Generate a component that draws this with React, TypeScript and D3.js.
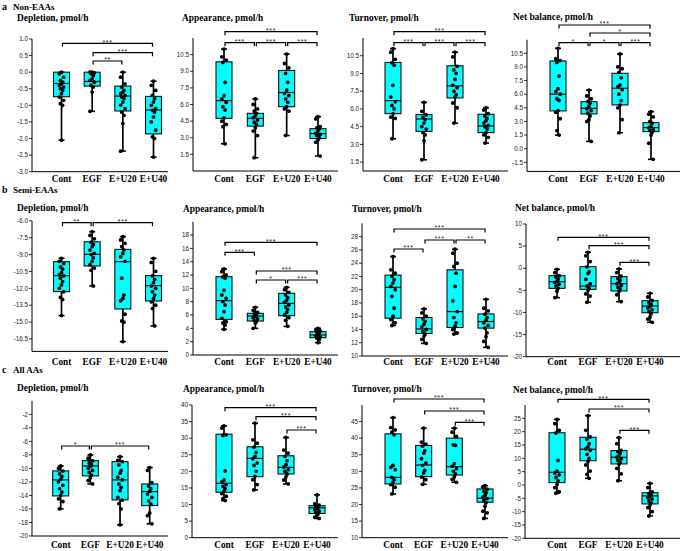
import React from "react";
import * as d3 from "d3";

const groups = ["Cont", "EGF", "E+U20", "E+U40"];

// box stats per group: [min, q1, median, q3, max]
// a: Non-EAAs
const neDepletionBox = [[-2.05, -0.74, -0.34, 0.0, 0.0], [-1.18, -0.42, -0.28, 0.0, 0.0], [-2.38, -1.17, -0.72, -0.42, 0.0], [-2.56, -1.86, -1.14, -0.73, -0.27]];
const neDepletionPts = [
  [0, -0.05, -0.15, -0.25, -0.3, -0.35, -0.4, -0.45, -0.5, -0.55, -0.65, -0.75, -0.85, -0.95, -1.0, -2.05],
  [0, 0, -0.02, -0.05, -0.1, -0.2, -0.25, -0.3, -0.4, -0.45, -0.6, -1.18],
  [0, -0.15, -0.35, -0.45, -0.55, -0.6, -0.65, -0.7, -0.75, -0.8, -0.9, -1.0, -1.1, -1.2, -1.3, -1.55, -2.38],
  [-0.27, -0.4, -0.55, -0.7, -0.8, -0.9, -1.0, -1.1, -1.15, -1.2, -1.35, -1.5, -1.75, -1.95, -2.0, -2.56],
];
const neAppearanceBox = [[2.45, 4.75, 6.35, 9.85, 11.0], [1.2, 4.05, 4.75, 5.2, 6.5], [3.2, 5.8, 7.08, 9.07, 10.55], [1.35, 2.93, 3.37, 3.82, 4.9]];
const neAppearancePts = [
  [11.0, 10.3, 10.0, 9.8, 8.0, 6.8, 6.5, 6.2, 5.8, 5.5, 4.8, 4.5, 4.2, 4.0, 2.45],
  [6.5, 6.0, 5.6, 5.4, 5.2, 5.0, 4.8, 4.6, 4.4, 4.2, 3.9, 3.6, 3.2, 1.2],
  [10.55, 9.7, 9.3, 8.8, 8.0, 7.3, 7.0, 6.8, 6.5, 6.2, 5.8, 5.6, 5.4, 3.2],
  [4.9, 4.7, 4.0, 3.9, 3.8, 3.6, 3.4, 3.3, 3.2, 3.0, 2.8, 2.6, 1.35],
];
const neTurnoverBox = [[3.48, 5.6, 6.7, 9.93, 11.1], [1.7, 4.1, 5.15, 5.52, 6.55], [4.8, 6.93, 7.95, 9.65, 10.8], [3.11, 4.0, 4.56, 5.55, 6.1]];
const neTurnoverPts = [
  [11.1, 10.8, 10.2, 9.9, 9.7, 8.0, 7.0, 6.6, 6.3, 6.0, 5.6, 5.3, 5.2, 3.48],
  [6.55, 5.8, 5.5, 5.3, 5.1, 4.8, 4.5, 4.3, 4.0, 3.8, 3.3, 1.7],
  [10.8, 10.4, 9.6, 9.3, 9.0, 8.5, 8.0, 7.8, 7.5, 7.2, 7.0, 6.5, 6.1, 4.8],
  [6.1, 5.9, 5.6, 5.4, 5.2, 5.0, 4.8, 4.6, 4.5, 4.3, 4.0, 3.8, 3.6, 3.11],
];
const neNetBox = [[1.5, 4.16, 6.0, 9.66, 11.05], [0.8, 3.83, 4.45, 5.18, 6.45], [1.75, 4.82, 6.65, 8.3, 10.43], [-1.17, 1.88, 2.32, 2.87, 4.08]];
const neNetPts = [
  [11.05, 9.9, 9.7, 9.5, 8.0, 6.6, 6.3, 6.0, 5.5, 5.3, 4.2, 4.0, 3.3, 2.0, 1.5],
  [6.45, 5.8, 5.5, 5.2, 5.0, 4.7, 4.4, 4.2, 3.9, 3.6, 3.2, 3.0, 0.8],
  [10.43, 9.0, 8.8, 8.4, 7.8, 7.0, 6.8, 6.5, 6.0, 5.3, 4.8, 4.5, 3.2, 1.75],
  [4.08, 3.8, 3.5, 3.0, 2.8, 2.5, 2.3, 2.1, 2.0, 1.8, 1.5, 0.6, -1.17],
];

// b: Semi-EAAs
const seDepletionBox = [[-14.42, -12.29, -10.87, -9.63, -9.33], [-11.79, -10.01, -8.98, -7.86, -6.97], [-16.73, -13.83, -9.63, -8.54, -7.41], [-15.34, -13.12, -11.76, -10.87, -9.33]];
const seDepletionPts = [
  [-9.33, -9.6, -9.8, -10.1, -10.3, -10.6, -10.8, -10.9, -11.1, -11.4, -11.7, -12.0, -12.3, -12.8, -13.0, -14.42],
  [-6.97, -7.3, -7.6, -7.9, -8.1, -8.3, -8.6, -8.9, -9.0, -9.3, -9.6, -9.9, -10.2, -10.4, -11.79],
  [-7.41, -7.7, -8.0, -8.3, -8.6, -8.9, -9.2, -9.6, -11.1, -12.6, -12.9, -13.1, -14.3, -14.9, -15.0, -16.73],
  [-9.33, -9.7, -10.5, -10.9, -11.2, -11.5, -11.8, -12.0, -12.3, -12.6, -12.9, -13.2, -13.5, -13.8, -15.34],
];
const seAppearanceBox = [[3.85, 5.35, 8.15, 11.75, 12.9], [4.0, 5.1, 5.85, 6.25, 7.15], [4.3, 5.9, 7.75, 9.25, 10.15], [1.85, 2.6, 3.0, 3.5, 4.0]];
const seAppearancePts = [
  [12.9, 12.5, 12.0, 11.7, 11.5, 9.7, 9.0, 8.5, 8.0, 7.5, 6.5, 5.5, 5.0, 4.8, 4.5, 3.85],
  [7.15, 6.7, 6.4, 6.2, 6.0, 5.8, 5.6, 5.4, 5.2, 5.0, 4.8, 4.0],
  [10.15, 9.8, 9.4, 9.0, 8.6, 8.2, 7.9, 7.5, 7.2, 6.8, 6.4, 6.0, 5.6, 5.2, 4.3],
  [4.0, 3.8, 3.6, 3.4, 3.2, 3.0, 2.9, 2.7, 2.5, 2.3, 1.85],
];
const seTurnoverBox = [[14.6, 15.7, 20.36, 22.2, 25.0], [11.9, 13.4, 14.08, 15.8, 17.1], [13.3, 14.3, 16.7, 23.0, 26.1], [11.3, 14.2, 15.2, 16.35, 18.55]];
const seTurnoverPts = [
  [25.0, 23.0, 22.5, 22.0, 21.5, 21.0, 20.5, 20.0, 19.0, 17.2, 16.0, 15.5, 15.0, 14.6],
  [17.1, 16.5, 16.0, 15.6, 15.2, 14.8, 14.4, 14.0, 13.7, 13.3, 13.0, 12.5, 11.9],
  [26.1, 25.5, 24.0, 23.5, 22.5, 20.5, 18.3, 16.7, 15.8, 15.0, 14.5, 14.0, 13.5, 13.3],
  [18.55, 17.2, 16.8, 16.3, 15.8, 15.4, 15.0, 14.6, 14.2, 13.5, 12.9, 12.2, 11.3],
];
const seNetBox = [[-6.65, -4.55, -3.04, -1.68, -0.25], [-7.7, -4.77, -4.02, 0.35, 3.6], [-7.56, -5.15, -3.49, -1.9, -0.17], [-12.23, -10.05, -8.54, -7.33, -5.67]];
const seNetPts = [
  [-0.25, -1.0, -1.7, -2.0, -2.5, -3.0, -3.2, -3.6, -4.0, -4.5, -5.2, -6.65],
  [3.6, 2.8, 1.5, 0.3, -0.8, -1.2, -2.5, -3.5, -4.0, -4.5, -5.0, -5.8, -6.3, -7.7],
  [-0.17, -1.0, -1.8, -2.3, -2.7, -3.1, -3.5, -3.9, -4.3, -4.7, -5.2, -6.0, -7.56],
  [-5.67, -6.5, -7.3, -7.8, -8.2, -8.6, -9.0, -9.4, -9.8, -10.3, -11.0, -11.5, -12.23],
];

// c: All AAs
const allDepletionBox = [[-15.99, -14.07, -11.7, -10.37, -9.64], [-12.3, -11.11, -9.64, -8.85, -8.01], [-18.35, -14.66, -11.7, -9.0, -8.26], [-18.2, -15.5, -13.43, -12.3, -9.88]];
const allDepletionPts = [
  [-9.64, -10.0, -10.4, -10.8, -11.2, -11.6, -12.0, -12.5, -13.0, -13.5, -14.0, -14.5, -14.9, -15.99],
  [-8.01, -8.5, -8.9, -9.2, -9.5, -9.7, -10.0, -10.3, -10.6, -11.0, -11.4, -11.8, -12.3],
  [-8.26, -8.8, -9.0, -9.5, -10.3, -10.7, -11.3, -11.7, -12.3, -12.8, -13.3, -14.3, -14.7, -15.2, -16.0, -18.35],
  [-9.88, -10.3, -12.1, -12.6, -13.0, -13.4, -13.8, -14.3, -14.8, -15.3, -16.6, -17.0, -18.2],
];
const allAppearanceBox = [[11.2, 13.7, 16.4, 31.2, 33.7], [14.4, 18.4, 23.9, 27.4, 34.5], [16.2, 19.2, 21.2, 24.7, 30.2], [5.8, 7.3, 9.0, 9.65, 12.9]];
const allAppearancePts = [
  [33.7, 33.0, 31.0, 30.8, 20.1, 17.4, 16.8, 16.0, 15.5, 14.8, 14.0, 13.3, 12.5, 11.8, 11.2],
  [34.5, 29.5, 28.5, 27.3, 25.7, 24.5, 23.8, 22.5, 21.8, 20.0, 18.5, 17.5, 16.0, 14.4],
  [30.2, 26.4, 25.5, 24.5, 23.2, 22.0, 21.3, 20.5, 20.0, 19.2, 18.4, 17.4, 16.2],
  [12.9, 10.2, 9.8, 9.4, 9.1, 8.8, 8.4, 8.0, 7.6, 7.2, 6.8, 6.2, 5.8],
];
const allTurnoverBox = [[23.2, 26.2, 28.2, 41.3, 46.2], [26.1, 28.4, 31.9, 37.8, 43.0], [26.7, 28.9, 31.4, 40.0, 43.0], [15.8, 20.7, 21.9, 24.7, 25.7]];
const allTurnoverPts = [
  [46.2, 43.2, 42.5, 41.8, 41.0, 31.8, 31.2, 30.5, 28.2, 27.5, 26.8, 26.0, 25.2, 23.2],
  [43.0, 38.8, 38.2, 37.6, 36.2, 35.5, 33.8, 32.5, 31.8, 30.3, 29.5, 28.3, 27.5, 26.1],
  [43.0, 41.8, 40.5, 38.0, 37.8, 32.3, 31.5, 30.8, 30.0, 29.2, 28.4, 27.6, 26.7],
  [25.7, 25.2, 24.6, 24.0, 23.5, 22.8, 22.2, 21.8, 21.2, 20.5, 19.5, 18.0, 17.5, 15.8],
];
const allNetBox = [[-3.1, 0.9, 4.75, 19.6, 24.6], [2.5, 9.1, 13.4, 17.9, 26.0], [1.6, 7.9, 10.4, 12.9, 17.75], [-11.6, -7.1, -4.1, -2.9, 0.6]];
const allNetPts = [
  [24.6, 23.0, 20.5, 19.5, 9.2, 5.2, 4.5, 3.8, 2.8, 1.5, 0.2, -1.0, -2.5, -3.1],
  [26.0, 20.5, 18.0, 17.2, 15.5, 14.3, 13.5, 13.0, 11.5, 10.0, 8.8, 7.5, 5.2, 4.0, 2.5],
  [17.75, 15.5, 13.0, 12.5, 11.8, 11.0, 10.4, 9.8, 9.2, 8.5, 7.8, 6.2, 4.2, 1.6],
  [0.6, -1.0, -2.6, -3.2, -3.8, -4.3, -4.8, -5.3, -6.0, -6.8, -7.5, -8.5, -10.0, -11.6],
];

// significance comparisons: [groupA, groupB, label]
const neDepletionSig = [["Cont", "E+U40", "***"], ["EGF", "E+U40", "***"], ["EGF", "E+U20", "**"]];
const neAppearanceSig = [["Cont", "E+U40", "***"], ["Cont", "EGF", "***"], ["EGF", "E+U20", "***"], ["E+U20", "E+U40", "***"]];
const neTurnoverSig = [["Cont", "E+U40", "***"], ["Cont", "EGF", "***"], ["EGF", "E+U20", "***"], ["E+U20", "E+U40", "***"]];
const neNetSig = [["Cont", "E+U40", "***"], ["EGF", "E+U40", "*"], ["Cont", "EGF", "*"], ["EGF", "E+U20", "*"], ["E+U20", "E+U40", "***"]];
const seDepletionSig = [["Cont", "EGF", "**"], ["EGF", "E+U40", "***"]];
const seAppearanceSig = [["Cont", "E+U40", "***"], ["Cont", "EGF", "***"], ["EGF", "E+U40", "***"], ["EGF", "E+U20", "*"], ["E+U20", "E+U40", "***"]];
const seTurnoverSig = [["Cont", "E+U40", "***"], ["EGF", "E+U20", "***"], ["E+U20", "E+U40", "**"], ["Cont", "EGF", "***"]];
const seNetSig = [["Cont", "E+U40", "***"], ["EGF", "E+U40", "***"], ["E+U20", "E+U40", "***"]];
const allDepletionSig = [["Cont", "EGF", "*"], ["EGF", "E+U40", "***"]];
const allAppearanceSig = [["Cont", "E+U40", "***"], ["EGF", "E+U40", "***"], ["E+U20", "E+U40", "***"]];
const allTurnoverSig = [["Cont", "E+U40", "***"], ["EGF", "E+U40", "***"], ["E+U20", "E+U40", "***"]];
const allNetSig = [["Cont", "E+U40", "***"], ["EGF", "E+U40", "***"], ["E+U20", "E+U40", "***"]];

const rowHeads = [
  { letter: "a", text: "Non-EAAs", y: 10 },
  { letter: "b", text: "Semi-EAAs", y: 193 },
  { letter: "c", text: "All AAs", y: 373 },
];

const tk = (a: number, b: number, s: number) => d3.range(a, b + s / 2, s).map((v) => Math.round(v * 100) / 100);
const f1 = (v: number) => v.toFixed(1);
const f0 = (v: number) => String(v);

// layout of each panel (pixels) + its data
const panels = [
  { title: "Depletion, pmol/h", tx: 17, ty: 21, ax: 32, axEnd: 168, yr: [171.7, 39], dom: [-3, 1], ticks: tk(-3, 1, 0.5), fmt: f1, xr: [61.5, 153.5], ly: 182, sy: [43.3, 52.7, 61], box: neDepletionBox, pts: neDepletionPts, sig: neDepletionSig },
  { title: "Appearance, pmol/h", tx: 182, ty: 21, ax: 193, axEnd: 338, yr: [171, 38], dom: [0, 12], ticks: tk(1.5, 10.5, 1.5), fmt: f1, xr: [224, 318], ly: 182, sy: [31.7, 42.7, 42.7, 42.7], box: neAppearanceBox, pts: neAppearancePts, sig: neAppearanceSig },
  { title: "Turnover, pmol/h", tx: 349, ty: 21, ax: 363, axEnd: 508, yr: [171, 38], dom: [0.75, 12], ticks: tk(1.5, 10.5, 1.5), fmt: f1, xr: [393, 486], ly: 182, sy: [31.7, 42.7, 42.7, 42.7], box: neTurnoverBox, pts: neTurnoverPts, sig: neTurnoverSig },
  { title: "Net balance, pmol/h", tx: 513, ty: 20, ax: 527, axEnd: 680, yr: [171.4, 39.7], dom: [-2.5, 12], ticks: tk(-1.5, 10.5, 1.5), fmt: f1, xr: [558, 651], ly: 182, sy: [25, 33, 42.7, 42.7, 42.7], box: neNetBox, pts: neNetPts, sig: neNetSig },

  { title: "Depletion, pmol/h", tx: 17, ty: 211, ax: 32, axEnd: 168, yr: [351.4, 220.8], dom: [-17.6, -6], ticks: tk(-16.5, -6, 1.5), fmt: f1, xr: [61.5, 153.5], ly: 365, sy: [222.7, 222.7], box: seDepletionBox, pts: seDepletionPts, sig: seDepletionSig },
  { title: "Appearance, pmol/h", tx: 183, ty: 212, ax: 193, axEnd: 338, yr: [355, 221.7], dom: [0, 20], ticks: tk(0, 18, 2), fmt: f0, xr: [224, 318], ly: 365, sy: [242.3, 252.3, 271, 280, 280], box: seAppearanceBox, pts: seAppearancePts, sig: seAppearanceSig },
  { title: "Turnover, pmol/h", tx: 352, ty: 212, ax: 362, axEnd: 508, yr: [356, 223.4], dom: [10, 30], ticks: tk(10, 28, 2), fmt: f0, xr: [393, 486], ly: 365, sy: [229, 240, 240, 249], box: seTurnoverBox, pts: seTurnoverPts, sig: seTurnoverSig },
  { title: "Net balance, pmol/h", tx: 515, ty: 211, ax: 526, axEnd: 680, yr: [356.7, 224], dom: [-20, 10], ticks: tk(-20, 10, 5), fmt: f0, xr: [557, 650], ly: 365, sy: [237.3, 245.7, 262.3], box: seNetBox, pts: seNetPts, sig: seNetSig },

  { title: "Depletion, pmol/h", tx: 17, ty: 391, ax: 32, axEnd: 168, yr: [536, 400.8], dom: [-20, 0], ticks: tk(-20, -2, 2), fmt: f0, xr: [60.7, 149.7], ly: 548, sy: [446, 446], box: allDepletionBox, pts: allDepletionPts, sig: allDepletionSig },
  { title: "Appearance, pmol/h", tx: 183, ty: 392, ax: 192, axEnd: 338, yr: [537.7, 405], dom: [0, 40], ticks: tk(0, 40, 5), fmt: f0, xr: [224, 317], ly: 548, sy: [407.7, 416.7, 430], box: allAppearanceBox, pts: allAppearancePts, sig: allAppearanceSig },
  { title: "Turnover, pmol/h", tx: 352, ty: 392, ax: 362, axEnd: 508, yr: [537.7, 405], dom: [10, 50], ticks: tk(10, 45, 5), fmt: f0, xr: [393, 485], ly: 548, sy: [399, 411, 422.3], box: allTurnoverBox, pts: allTurnoverPts, sig: allTurnoverSig },
  { title: "Net balance, pmol/h", tx: 513, ty: 393, ax: 525, axEnd: 680, yr: [538.3, 405], dom: [-20, 30], ticks: tk(-20, 25, 5), fmt: f0, xr: [557, 650], ly: 548, sy: [399.3, 409, 430.3], box: allNetBox, pts: allNetPts, sig: allNetSig },
];

const SERIF = "'Liberation Serif', 'Times New Roman', serif";
const SANS = "'Liberation Sans', Arial, sans-serif";
const jitter = [0, -2.2, 2.2, -1.1, 1.1];

function Panel({ p }: { p: any }) {
  const y = d3.scaleLinear().domain(p.dom).range(p.yr);
  const x = d3.scalePoint().domain(groups).range(p.xr);
  const bw = 8;
  return (
    <g>
      <text x={p.tx} y={p.ty} fontFamily={SERIF} fontWeight="bold" fontSize={9.4}>{p.title}</text>
      {/* y axis */}
      <line x1={p.ax} x2={p.ax} y1={p.yr[0]} y2={p.yr[1]} stroke="#000" strokeWidth={1} />
      {p.ticks.map((t: number) => (
        <g key={t}>
          <line x1={p.ax - 3} x2={p.ax} y1={y(t)} y2={y(t)} stroke="#000" strokeWidth={0.8} />
          <text x={p.ax - 4} y={y(t)} dy="0.35em" textAnchor="end" fontFamily={SANS} fontSize={6.3} fill="#222">{p.fmt(t)}</text>
        </g>
      ))}
      {/* x axis */}
      <line x1={p.ax} x2={p.axEnd} y1={p.yr[0]} y2={p.yr[0]} stroke="#000" strokeWidth={1} />
      {groups.map((g) => (
        <text key={g} x={x(g)} y={p.ly} textAnchor="middle" fontFamily={SERIF} fontWeight="bold" fontSize={9.3}>{g}</text>
      ))}
      {/* boxes */}
      {p.box.map((b: number[], i: number) => {
        const cx = x(groups[i]) as number;
        return (
          <g key={i}>
            <line x1={cx} x2={cx} y1={y(b[4])} y2={y(b[0])} stroke="#000" strokeWidth={1.7} />
            <line x1={cx - 3} x2={cx + 3} y1={y(b[4])} y2={y(b[4])} stroke="#000" strokeWidth={1.6} />
            <line x1={cx - 3} x2={cx + 3} y1={y(b[0])} y2={y(b[0])} stroke="#000" strokeWidth={1.6} />
            <rect x={cx - bw} y={y(b[3])} width={bw * 2} height={Math.max(0.5, y(b[1]) - y(b[3]))} fill="#00FFFF" stroke="#111" strokeWidth={1.1} />
            <line x1={cx - bw} x2={cx + bw} y1={y(b[2])} y2={y(b[2])} stroke="#111" strokeWidth={1.2} />
            {p.pts[i].map((v: number, j: number) => (
              <circle key={j} cx={cx + jitter[j % jitter.length]} cy={y(v)} r={1.9} fill="#000" />
            ))}
          </g>
        );
      })}
      {/* significance brackets */}
      {p.sig.map((s: string[], k: number) => {
        const x1 = (x(s[0]) as number) + 1;
        const x2 = (x(s[1]) as number) - 1;
        const yy = p.sy[k];
        return (
          <g key={k}>
            <path d={`M${x1},${yy + 3.5}V${yy}H${x2}V${yy + 3.5}`} fill="none" stroke="#000" strokeWidth={1.2} />
            <text x={(x1 + x2) / 2} y={yy + 1.3} textAnchor="middle" fontFamily={SANS} fontSize={7} letterSpacing={0.6} fill="#222">{s[2]}</text>
          </g>
        );
      })}
    </g>
  );
}

export default function App() {
  return (
    <svg width={685} height={551} style={{ position: "absolute", left: 0, top: 0, background: "#fff" }}>
      {rowHeads.map((r) => (
        <g key={r.letter}>
          <text x={2} y={r.y} fontFamily={SERIF} fontWeight="bold" fontSize={10}>{r.letter}</text>
          <text x={13} y={r.y} fontFamily={SERIF} fontWeight="bold" fontSize={9}>{r.text}</text>
        </g>
      ))}
      {panels.map((p, i) => (
        <Panel key={i} p={p} />
      ))}
    </svg>
  );
}
